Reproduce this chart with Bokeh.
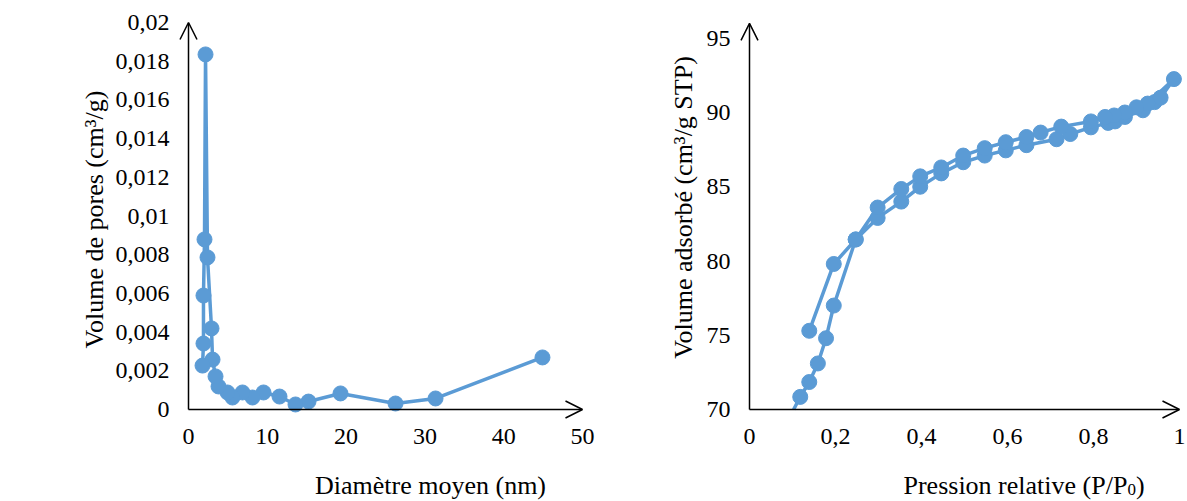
import math
from bokeh.plotting import figure
from bokeh.layouts import row
from bokeh.models import FixedTicker, Range1d, Arrow, OpenHead, Label, ColumnDataSource
from bokeh.embed import file_html
from bokeh.resources import INLINE

# ---------------- data ----------------
# Left chart: pore size distribution
diametre = [44.92, 31.35, 26.27, 19.29, 15.23, 13.58, 11.55, 9.52, 8.12, 6.85, 5.58, 4.95,
            3.81, 3.43, 3.05, 2.92, 2.41, 2.16, 2.03, 1.90, 1.90, 1.78]
volume_pores = [0.00269, 0.00057, 0.00031, 0.00083, 0.00041, 0.00026, 0.00067, 0.00088,
                0.00062, 0.00088, 0.00062, 0.00088, 0.00119, 0.00171, 0.00258, 0.00419,
                0.00786, 0.01835, 0.00879, 0.00589, 0.00341, 0.00227]
left_x_ticks = [0, 10, 20, 30, 40, 50]
left_x_labels = ["0", "10", "20", "30", "40", "50"]
left_y_ticks = [0, 0.002, 0.004, 0.006, 0.008, 0.01, 0.012, 0.014, 0.016, 0.018, 0.02]
left_y_labels = ["0", "0,002", "0,004", "0,006", "0,008", "0,01", "0,012", "0,014",
                 "0,016", "0,018", "0,02"]
left_x_max = 50
left_y_max = 0.02

# Right chart: isotherm (adsorption then desorption)
p_ads = [0.09, 0.118, 0.139, 0.159, 0.178, 0.196, 0.247, 0.298, 0.353, 0.397, 0.446, 0.497,
         0.547, 0.596, 0.644, 0.714, 0.746, 0.794, 0.834, 0.85, 0.873, 0.915, 0.942, 0.956, 0.987]
v_ads = [69.3, 70.85, 71.85, 73.1, 74.8, 77.0, 81.45, 82.9, 84.0, 85.0, 85.9, 86.65,
         87.1, 87.45, 87.8, 88.2, 88.55, 89.0, 89.3, 89.4, 89.7, 90.15, 90.7, 91.0, 92.25]
p_des = [0.926, 0.90, 0.873, 0.848, 0.827, 0.794, 0.725, 0.677, 0.644, 0.596, 0.547, 0.497,
         0.446, 0.397, 0.353, 0.298, 0.247, 0.196, 0.139]
v_des = [90.6, 90.35, 90.0, 89.8, 89.7, 89.4, 89.05, 88.65, 88.35, 88.0, 87.6, 87.1,
         86.3, 85.7, 84.85, 83.6, 81.45, 79.8, 75.3]
right_x_ticks = [0, 0.2, 0.4, 0.6, 0.8, 1]
right_x_labels = ["0", "0,2", "0,4", "0,6", "0,8", "1"]
right_y_ticks = [70, 75, 80, 85, 90, 95]
right_y_labels = ["70", "75", "80", "85", "90", "95"]
right_x_max = 1
right_y_min = 70
right_y_max = 96

# ---------------- style / layout constants (pixels) ----------------
BLUE = "#5B9BD5"
FONT = "Liberation Serif"
TICK_SIZE = "24px"
TITLE_SIZE = "26px"
H = 500
W1 = 600
W2 = 586
AXIS_Y_PX = 409           # x-axis line position (from top)
TITLE_MID_PX = 485        # vertical middle of the x-axis titles
SUB_MID_PX = 489          # vertical middle of the subscript
L_ORIGIN_X = 188          # left chart y-axis position
L_PX_X = 7.88             # px per unit (diameter)
L_PX_Y = 19350.0          # px per unit (volume)
R_ORIGIN_X = 149          # right chart y-axis position within its canvas
R_PX_X = 430.0
R_PX_Y = 14.85


def style(p, xt, xl, yt, yl, x0, y0, xb, yb):
    p.xgrid.visible = False
    p.ygrid.visible = False
    p.outline_line_color = None
    p.background_fill_color = "white"
    p.border_fill_color = "white"
    for ax in (p.xaxis[0], p.yaxis[0]):
        ax.axis_line_color = None
        ax.major_tick_line_color = None
        ax.minor_tick_line_color = None
        ax.major_tick_out = 0
        ax.major_tick_in = 0
        ax.major_label_text_font = FONT
        ax.major_label_text_font_size = TICK_SIZE
        ax.major_label_text_color = "black"
    p.xaxis[0].fixed_location = y0
    p.yaxis[0].fixed_location = x0
    p.xaxis[0].bounds = xb
    p.yaxis[0].bounds = yb
    p.xaxis[0].ticker = FixedTicker(ticks=xt)
    p.xaxis[0].major_label_overrides = dict(zip(xt, xl))
    p.xaxis[0].major_label_standoff = 19
    p.yaxis[0].ticker = FixedTicker(ticks=yt)
    p.yaxis[0].major_label_overrides = dict(zip(yt, yl))
    p.yaxis[0].major_label_standoff = 19


def axis_arrow(p, xs, ys, xe, ye):
    p.add_layout(Arrow(end=OpenHead(size=17, line_width=1.5, line_color="black"),
                       x_start=xs, y_start=ys, x_end=xe, y_end=ye,
                       line_color="black", line_width=1.5))


def title(p, x, y, text, size=TITLE_SIZE, align="center", angle=0):
    p.add_layout(Label(x=x, y=y, text=text, text_font=FONT, text_font_size=size,
                       text_align=align, text_baseline="middle", angle=angle,
                       text_color="black"))


# ---------------- left figure ----------------
lx_range = Range1d(-L_ORIGIN_X / L_PX_X, (W1 - L_ORIGIN_X) / L_PX_X)
ly_range = Range1d(-(H - AXIS_Y_PX) / L_PX_Y, AXIS_Y_PX / L_PX_Y)
p1 = figure(width=W1, height=H, output_backend="svg", toolbar_location=None,
            x_range=lx_range, y_range=ly_range, min_border=0)
style(p1, left_x_ticks, left_x_labels, left_y_ticks, left_y_labels, 0, 0,
      (0, left_x_max), (0, left_y_max))

src1 = ColumnDataSource(dict(x=diametre, y=volume_pores))
p1.line("x", "y", source=src1, line_color=BLUE, line_width=3.5)
p1.scatter("x", "y", source=src1, size=15, fill_color=BLUE, line_color=BLUE)

axis_arrow(p1, 0, 0, 0, left_y_max)
axis_arrow(p1, 0, 0, left_x_max, 0)
title(p1, (430 - L_ORIGIN_X) / L_PX_X, -(TITLE_MID_PX - AXIS_Y_PX) / L_PX_Y,
      "Diamètre moyen (nm)")
title(p1, (94 - L_ORIGIN_X) / L_PX_X, (AXIS_Y_PX - 219) / L_PX_Y,
      "Volume de pores (cm³/g)", angle=math.pi / 2)

# ---------------- right figure ----------------
rx_range = Range1d(-R_ORIGIN_X / R_PX_X, (W2 - R_ORIGIN_X) / R_PX_X)
ry_range = Range1d(right_y_min - (H - AXIS_Y_PX) / R_PX_Y, right_y_min + AXIS_Y_PX / R_PX_Y)
p2 = figure(width=W2, height=H, output_backend="svg", toolbar_location=None,
            x_range=rx_range, y_range=ry_range, min_border=0)
style(p2, right_x_ticks, right_x_labels, right_y_ticks, right_y_labels, 0, right_y_min,
      (0, right_x_max), (right_y_min, right_y_max))

# the first adsorption point lies below the axis minimum: cut the line at the axis
xs_line = p_ads + p_des
ys_line = v_ads + v_des
x_cut = xs_line[0] + (right_y_min - ys_line[0]) * (xs_line[1] - xs_line[0]) / (ys_line[1] - ys_line[0])
line_x = [x_cut] + xs_line[1:]
line_y = [right_y_min] + ys_line[1:]
pts = [(x, y) for x, y in zip(xs_line, ys_line) if y >= right_y_min]

p2.line(line_x, line_y, line_color=BLUE, line_width=3.5)
p2.scatter([q[0] for q in pts], [q[1] for q in pts], size=15, fill_color=BLUE, line_color=BLUE)

axis_arrow(p2, 0, right_y_min, 0, right_y_max)
axis_arrow(p2, 0, right_y_min, right_x_max, right_y_min)

R_TITLE_START = 903 - W1 - R_ORIGIN_X   # px from the y axis
title(p2, R_TITLE_START / R_PX_X, right_y_min - (TITLE_MID_PX - AXIS_Y_PX) / R_PX_Y,
      "Pression relative (P/P", align="left")
title(p2, (R_TITLE_START + 224) / R_PX_X, right_y_min - (SUB_MID_PX - AXIS_Y_PX) / R_PX_Y,
      "0", size="17px", align="left")
title(p2, (R_TITLE_START + 232.5) / R_PX_X, right_y_min - (TITLE_MID_PX - AXIS_Y_PX) / R_PX_Y,
      ")", align="left")
title(p2, (683 - W1 - R_ORIGIN_X) / R_PX_X, right_y_min + (AXIS_Y_PX - 207) / R_PX_Y,
      "Volume adsorbé (cm³/g STP)", angle=math.pi / 2)

layout = row(p1, p2)
open("out.html", "w").write(file_html(layout, INLINE))
